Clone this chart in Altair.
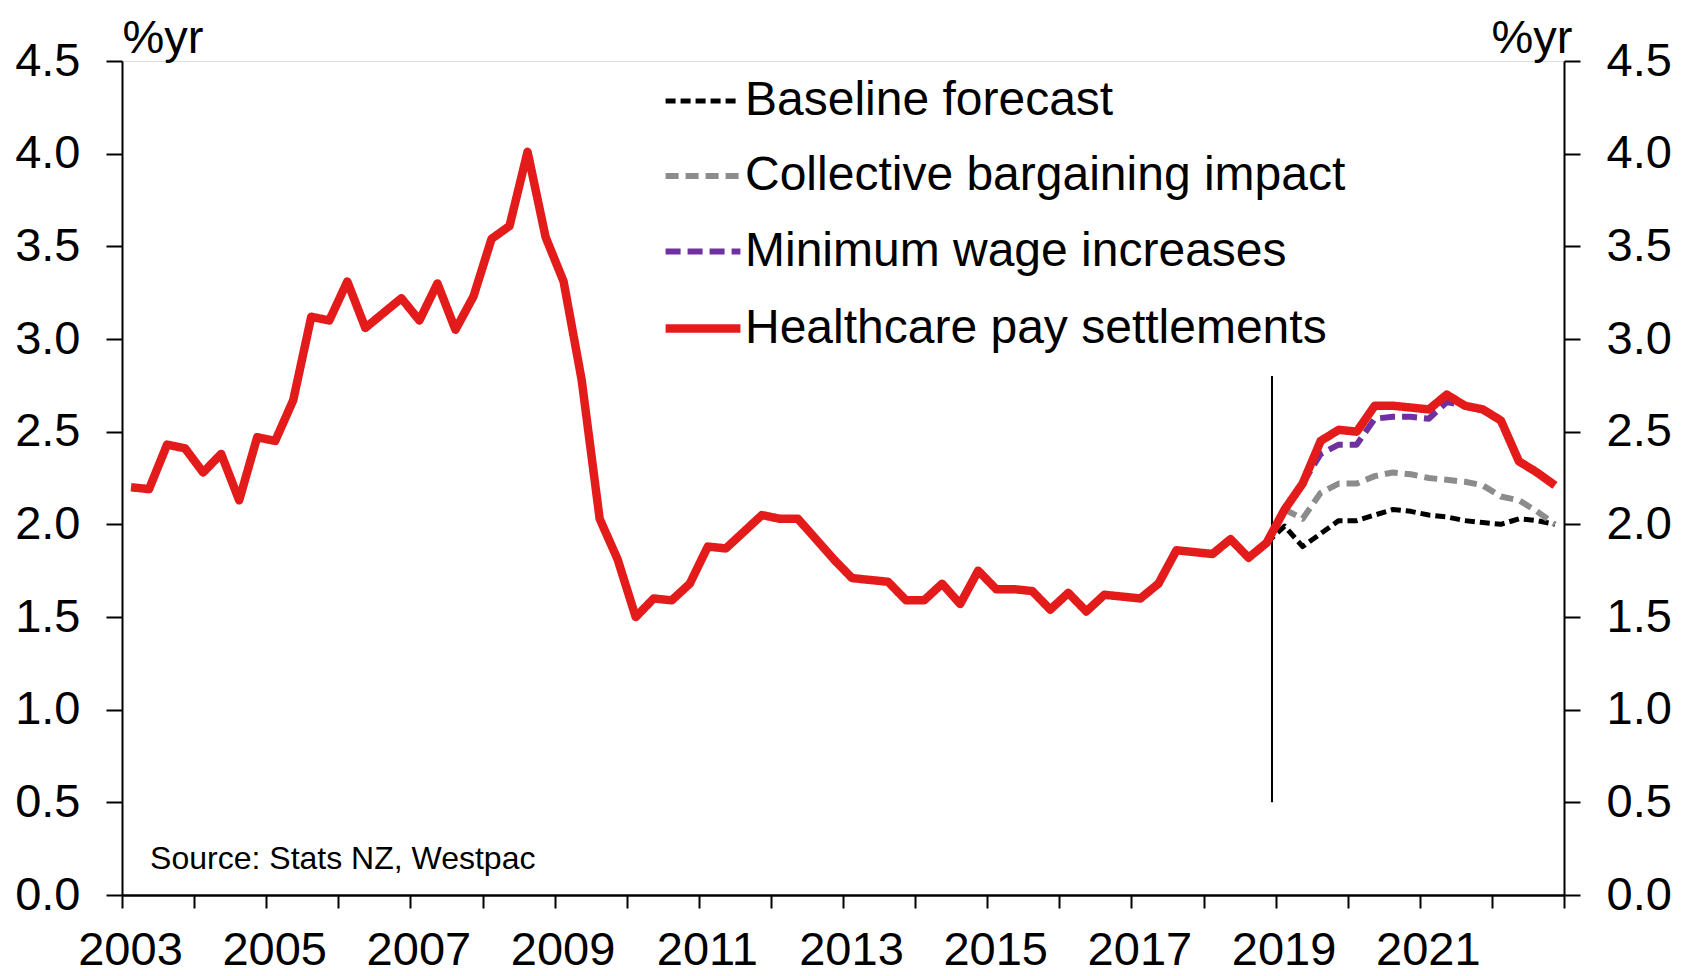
import altair as alt
import pandas as pd

FONT = "Liberation Sans, Arial, Helvetica, sans-serif"

# ---------------- data ----------------
start_year = 2003  # quarterly data, 2003Q1 .. 2022Q4

healthcare = [2.20, 2.19, 2.43, 2.41, 2.28, 2.38, 2.13, 2.47, 2.45, 2.67,
              3.12, 3.10, 3.31, 3.06, 3.14, 3.22, 3.10, 3.30, 3.05, 3.23,
              3.54, 3.61, 4.01, 3.55, 3.31, 2.78, 2.03, 1.81, 1.50, 1.60,
              1.59, 1.68, 1.88, 1.87, 1.96, 2.05, 2.03, 2.03, 1.92, 1.81,
              1.71, 1.70, 1.69, 1.59, 1.59, 1.68, 1.57, 1.75, 1.65, 1.65,
              1.64, 1.54, 1.63, 1.53, 1.62, 1.61, 1.60, 1.68, 1.86, 1.85,
              1.84, 1.92, 1.82, 1.90, 2.08, 2.22, 2.45, 2.51, 2.50, 2.64,
              2.64, 2.63, 2.62, 2.70, 2.64, 2.62, 2.56, 2.34, 2.28, 2.21]

baseline_start = 63   # index of first quarter of the series
baseline = [1.90, 1.99, 1.88, 1.95, 2.02, 2.02, 2.05, 2.08, 2.07, 2.05,
            2.04, 2.02, 2.01, 2.00, 2.03, 2.02, 2.00]

collective_start = 64
collective = [2.08, 2.03, 2.17, 2.22, 2.22, 2.26, 2.28, 2.27, 2.25, 2.24,
              2.23, 2.21, 2.15, 2.13, 2.07, 2.00]

minimum_start = 65
minimum = [2.22, 2.38, 2.43, 2.43, 2.57, 2.58, 2.58, 2.57, 2.66, 2.64,
           2.62, 2.56, 2.34, 2.28, 2.21]

series_names = ["Baseline forecast", "Collective bargaining impact",
                "Minimum wage increases", "Healthcare pay settlements"]
series_colors = ["#000000", "#8C8C8C", "#7030A0", "#E41B1B"]
series_dashes = [[10, 5], [13, 7], [15, 7], [1, 0]]
series_widths = [5, 6, 6, 8.5]

forecast_line_x = 2018.95
forecast_line_y = [0.5, 2.8]

y_ticks = [0.0, 0.5, 1.0, 1.5, 2.0, 2.5, 3.0, 3.5, 4.0, 4.5]
x_ticks = list(range(2003, 2024))
source_text = "Source: Stats NZ, Westpac"


def quarter_pos(i):
    return start_year + 0.125 + 0.25 * i


rows = []
for name, start, vals in [(series_names[0], baseline_start, baseline),
                          (series_names[1], collective_start, collective),
                          (series_names[2], minimum_start, minimum),
                          (series_names[3], 0, healthcare)]:
    for k, v in enumerate(vals):
        rows.append({"series": name, "t": quarter_pos(start + k), "v": v})
df = pd.DataFrame(rows)

# ---------------- chart ----------------
x_enc = alt.X("t:Q",
              scale=alt.Scale(domain=[2003, 2023], nice=False, zero=False),
              axis=alt.Axis(title=None, values=x_ticks, grid=False,
                            labelExpr="(datum.value - 2003) % 2 == 0 && datum.value < 2023 ? format(datum.value, 'd') : ''",
                            labelOverlap=False, labelFlush=False,
                            labelFontSize=47, labelFont=FONT, labelColor="#000",
                            labelPadding=19, labelOffset=8,
                            tickSize=13, tickWidth=2, tickColor="#000",
                            domainColor="#000", domainWidth=2.5))

y_scale = alt.Scale(domain=[0, 4.5], nice=False, zero=True)

left_axis = alt.Axis(title="%yr", titleAngle=0, titleAlign="left", titleX=0, titleY=-9,
                     titleBaseline="alphabetic", titleFontSize=47, titleFont=FONT,
                     titleFontWeight="normal", titleColor="#000",
                     values=y_ticks, format=".1f", grid=False,
                     labelFontSize=47, labelFont=FONT, labelColor="#000", labelPadding=26,
                     tickSize=16, tickWidth=2, tickColor="#000",
                     domainColor="#000", domainWidth=2)
right_axis = alt.Axis(orient="right", title="%yr", titleAngle=0, titleAlign="right", titleX=8,
                      titleY=-9, titleBaseline="alphabetic", titleFontSize=47, titleFont=FONT,
                      titleFontWeight="normal", titleColor="#000",
                      values=y_ticks, format=".1f", grid=False,
                      labelFontSize=47, labelFont=FONT, labelColor="#000", labelPadding=26,
                      tickSize=16, tickWidth=2, tickColor="#000",
                      domainColor="#000", domainWidth=2)

legend = alt.Legend(title=None, orient="none", legendX=539, legendY=0, padding=0,
                    symbolType="stroke", symbolSize=5600, labelFontSize=48, labelFont=FONT,
                    labelColor="#000", labelOffset=0, labelLimit=0, rowPadding=10.5)

color_enc = alt.Color("series:N", scale=alt.Scale(domain=series_names, range=series_colors),
                      legend=legend)
dash_enc = alt.StrokeDash("series:N", scale=alt.Scale(domain=series_names, range=series_dashes),
                          legend=legend)
width_enc = alt.StrokeWidth("series:N", scale=alt.Scale(type="ordinal", domain=series_names,
                                                        range=series_widths),
                            legend=legend)

layers = []
for i, name in enumerate(series_names):
    ax = left_axis if i == 0 else None
    layer = alt.Chart(df).transform_filter(alt.datum.series == name).mark_line(
        strokeJoin="round").encode(
        x=x_enc,
        y=alt.Y("v:Q", scale=y_scale, axis=ax),
        color=color_enc, strokeDash=dash_enc, strokeWidth=width_enc,
    )
    layers.append(layer)

rule_df = pd.DataFrame({"t": [forecast_line_x], "v": [forecast_line_y[0]], "v2": [forecast_line_y[1]]})
rule = alt.Chart(rule_df).mark_rule(color="#000", strokeWidth=2).encode(
    x=x_enc,
    y=alt.Y("v:Q", scale=y_scale, axis=right_axis),
    y2="v2:Q",
)

src_df = pd.DataFrame({"t": [2003.39], "v": [0.14], "txt": [source_text]})
src = alt.Chart(src_df).mark_text(align="left", baseline="alphabetic", fontSize=32,
                                  font=FONT, color="#000").encode(
    x=x_enc, y=alt.Y("v:Q", scale=y_scale, axis=None), text="txt:N")

chart = alt.layer(rule, src, *layers).resolve_axis(y="independent").properties(
    width=1442, height=834,
    padding={"left": 114, "top": 53, "right": 114, "bottom": 81},
    autosize=alt.AutoSizeParams(type="none"),
).configure_view(stroke=None).configure(background="white")

chart.save("out.html", embed_options={"renderer": "svg", "actions": False})
